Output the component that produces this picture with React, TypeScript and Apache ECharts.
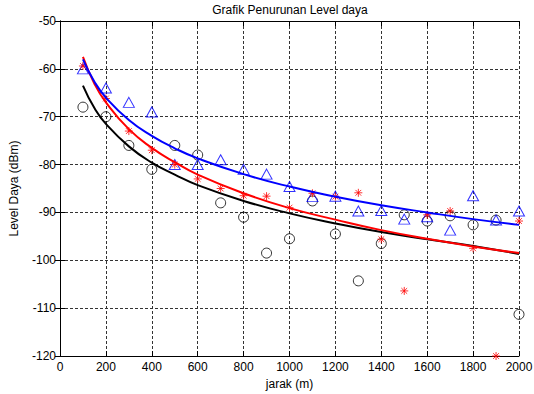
import React, { useEffect, useRef } from "react";
import * as echarts from "echarts";

const distances = [100, 200, 300, 400, 500, 600, 700, 800, 900, 1000, 1100, 1200, 1300, 1400, 1500, 1600, 1700, 1800, 1900, 2000];
const triangleVals = [-60, -64, -67, -69, -80, -80, -79, -81, -82, -84.6, -86.7, -86.6, -89.7, -89.6, -91.4, -90.9, -93.7, -86.5, -91.6, -89.7];
const circleVals = [-68, -70, -76, -81, -76, -78, -88, -91, -98.5, -95.5, -87.6, -94.5, -104.3, -96.5, -90.5, -91.8, -90.7, -92.6, -91.6, -111.3];
const starVals = [-59.4, -66.2, -73, -77, -80, -83, -85, -86.5, -86.6, -89, -86, -86.7, -85.9, -95.6, -106.4, -90.5, -89.7, -97.5, -120, -91.8];

const curveX = [100, 150, 200, 300, 400, 500, 600, 800, 1000, 1200, 1400, 1600, 1800, 2000];
const blueCurve = [-58, -62.7, -66.0, -70.7, -74.0, -76.6, -78.7, -82.0, -84.6, -86.7, -88.5, -90.0, -91.4, -92.6];
const redCurve = [-57.5, -63.1, -67.0, -72.6, -76.5, -79.5, -82.1, -86.0, -89.1, -91.5, -93.7, -95.5, -97.1, -98.5];
const blackCurve = [-63.5, -68.2, -71.5, -76.2, -79.6, -82.1, -84.3, -87.6, -90.2, -92.3, -94.1, -95.6, -97.0, -98.7];

const xTicks = { min: 0, max: 2000, interval: 200 };
const yTicks = { min: -120, max: -50, interval: 10 };

const FONT = "'Liberation Sans', Arial, sans-serif";
const FS = 12;
const STAR = "path://M0,-5L0,5M-5,0L5,0M-3.6,-3.6L3.6,3.6M-3.6,3.6L3.6,-3.6";

function pairs(xs: number[], ys: number[]) {
  return xs.map((x, i) => [x, ys[i]]);
}

export default function App() {
  const ref = useRef<HTMLDivElement>(null);
  useEffect(() => {
    document.body.style.margin = "0";
    const chart = echarts.init(ref.current!, null, { renderer: "svg" });
    const gridLine = { show: true, lineStyle: { color: "#333", type: [3, 2], width: 1 } };
    const axisCommon = {
      axisLine: { show: true, lineStyle: { color: "#000", width: 1 } },
      axisTick: { show: true, inside: true, length: 5, lineStyle: { color: "#000" } },
    };
    chart.setOption({
      animation: false,
      backgroundColor: "#fff",
      grid: { left: 60, right: 15, top: 21, bottom: 38, show: false, containLabel: false, outerBoundsMode: "none" },
      graphic: [
        {
          type: "text",
          x: 290,
          y: 4,
          style: { text: "Grafik Penurunan Level daya", font: `${FS}px ${FONT}`, fill: "#000", textAlign: "center" },
        },
      ],
      xAxis: [
        {
          type: "value",
          ...xTicks,
          position: "bottom",
          ...axisCommon,
          splitLine: gridLine,
          axisLabel: { color: "#000", fontSize: FS, fontFamily: FONT, margin: 5, formatter: (v: number) => String(v) },
          name: "jarak (m)",
          nameLocation: "middle",
          nameGap: 22,
          nameTextStyle: { color: "#000", fontSize: FS, fontFamily: FONT },
        },
        {
          type: "value",
          ...xTicks,
          position: "top",
          ...axisCommon,
          splitLine: { show: false },
          axisLabel: { show: false },
        },
      ],
      yAxis: [
        {
          type: "value",
          ...yTicks,
          position: "left",
          ...axisCommon,
          splitLine: gridLine,
          axisLabel: { color: "#000", fontSize: FS, fontFamily: FONT, margin: 4, formatter: (v: number) => String(v) },
          name: "Level Daya (dBm)",
          nameLocation: "middle",
          nameGap: 40,
          nameTextStyle: { color: "#000", fontSize: FS, fontFamily: FONT },
        },
        {
          type: "value",
          ...yTicks,
          position: "right",
          ...axisCommon,
          splitLine: { show: false },
          axisLabel: { show: false },
        },
      ],
      series: [
        {
          type: "line",
          data: pairs(curveX, blackCurve),
          smooth: true,
          showSymbol: false,
          lineStyle: { color: "#000", width: 2 },
        },
        {
          type: "line",
          data: pairs(curveX, redCurve),
          smooth: true,
          showSymbol: false,
          lineStyle: { color: "#ff0000", width: 2 },
        },
        {
          type: "line",
          data: pairs(curveX, blueCurve),
          smooth: true,
          showSymbol: false,
          lineStyle: { color: "#0000ff", width: 2 },
        },
        {
          type: "scatter",
          data: pairs(distances, circleVals),
          symbol: "circle",
          symbolSize: 10,
          itemStyle: { color: "none", borderColor: "#000", borderWidth: 1 },
        },
        {
          type: "scatter",
          data: pairs(distances, triangleVals),
          symbol: "triangle",
          symbolSize: [11, 10],
          itemStyle: { color: "none", borderColor: "#0000ff", borderWidth: 1 },
        },
        {
          type: "scatter",
          data: pairs(distances, starVals),
          symbol: STAR,
          symbolSize: 8,
          itemStyle: { color: "none", borderColor: "#ff0000", borderWidth: 1 },
        },
      ],
    });
    return () => chart.dispose();
  }, []);
  return <div ref={ref} style={{ width: 534, height: 394 }} />;
}
